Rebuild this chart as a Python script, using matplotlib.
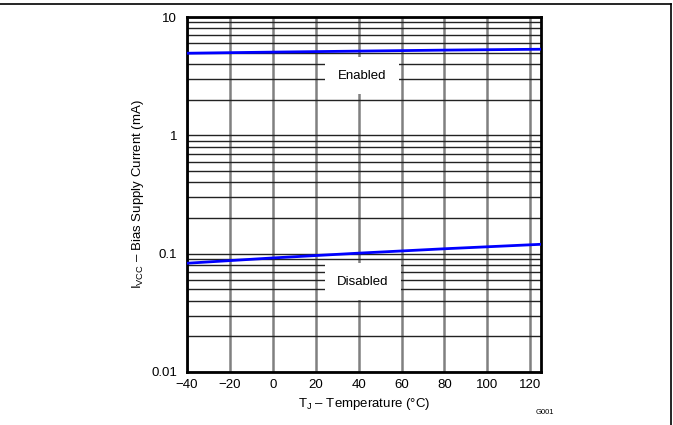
import matplotlib
matplotlib.use('Agg')
import matplotlib.pyplot as plt
from matplotlib.lines import Line2D
from matplotlib.ticker import LogLocator, FixedLocator, FixedFormatter, NullFormatter

plt.rcParams['font.family'] = ['Liberation Sans', 'DejaVu Sans']
plt.rcParams['mathtext.fontset'] = 'custom'
plt.rcParams['mathtext.rm'] = 'Liberation Sans'
plt.rcParams['mathtext.it'] = 'Liberation Sans'

# data
temps = [-40, 0, 40, 80, 125]
enabled = [4.94, 5.05, 5.15, 5.25, 5.34]
disabled = [0.083, 0.092, 0.101, 0.110, 0.120]

x_ticks = [-40, -20, 0, 20, 40, 60, 80, 100, 120]
y_ticks = [0.01, 0.1, 1, 10]
y_labels = ['0.01', '0.1', '1', '10']

fig = plt.figure(figsize=(6.73, 4.25), dpi=100)
ax = fig.add_axes([187 / 673, 1 - 372 / 425, 354 / 673, 355 / 425])

ax.set_yscale('log')
ax.set_xlim(-40, 125)
ax.set_ylim(0.01, 10)

ax.xaxis.set_major_locator(FixedLocator(x_ticks))
ax.yaxis.set_major_locator(FixedLocator(y_ticks))
ax.yaxis.set_major_formatter(FixedFormatter(y_labels))
ax.yaxis.set_minor_locator(LogLocator(base=10, subs=range(2, 10)))
ax.yaxis.set_minor_formatter(NullFormatter())

ax.grid(True, axis='x', which='major', color='#808080', linewidth=1.8)
ax.grid(True, axis='y', which='both', color='#222222', linewidth=1.0)
ax.set_axisbelow(True)

ax.tick_params(which='both', length=0, labelsize=9.5)
ax.tick_params(axis='y', pad=7)
ax.tick_params(axis='x', pad=5)

for s in ax.spines.values():
    s.set_linewidth(2)
    s.set_color('black')

ax.plot(temps, enabled, color='#0000ff', linewidth=2, zorder=3)
ax.plot(temps, disabled, color='#0000ff', linewidth=2, zorder=3)

box = dict(facecolor='white', edgecolor='none', pad=9)
ax.text(41.5, 3.2, 'Enabled', fontsize=9.5, ha='center', va='center', bbox=box, zorder=4)
ax.text(42, 0.058, 'Disabled', fontsize=9.5, ha='center', va='center', bbox=box, zorder=4)

ax.set_xlabel('T$_{\\mathregular{J}}$ – Temperature (°C)', fontsize=9.5, labelpad=4)
ax.set_ylabel('I$_{\\mathregular{VCC}}$ – Bias Supply Current (mA)', fontsize=9.5, labelpad=4)

fig.text(545 / 673, 1 - 413 / 425, 'G001', fontsize=5.5, ha='center', va='center')

# frame lines of the original page
fig.add_artist(Line2D([0, 671 / 673], [1 - 3.5 / 425] * 2, color='black', linewidth=1.2))
fig.add_artist(Line2D([670.5 / 673] * 2, [0, 1 - 3.5 / 425], color='black', linewidth=1.2))

fig.savefig('out.png', dpi=100)
